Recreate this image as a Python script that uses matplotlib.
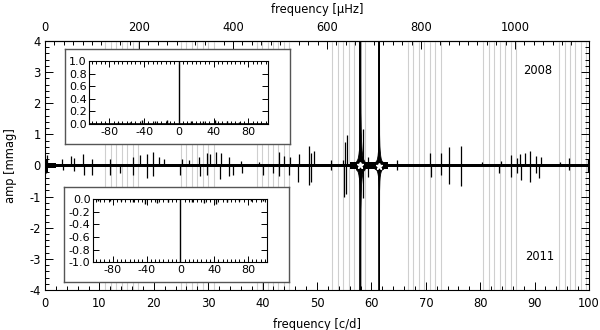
import numpy as np
import matplotlib
matplotlib.use('Agg')
import matplotlib.pyplot as plt
from matplotlib.ticker import MultipleLocator, FixedLocator

plt.rcParams['font.family'] = ['DejaVu Sans']
plt.rcParams['font.size'] = 7.6
plt.rcParams['axes.unicode_minus'] = False

CD_TO_UHZ = 11.574

# light grey marker lines (c/d)
alias_lines = [11.1, 12.1, 13.1, 14.1, 15.1, 16.1, 17.1,
               25.0, 26.0, 27.0, 28.0, 29.0, 30.0, 31.0,
               38.9, 39.9, 40.9, 41.9, 42.9, 43.9, 44.9,
               52.8, 53.8, 54.8, 55.8, 56.8, 57.8, 58.8,
               66.7, 67.7, 68.7, 69.7, 70.7, 71.7, 72.7,
               80.6, 81.6, 82.6, 83.6, 84.6, 85.6, 86.6,
               94.5, 95.5, 96.5, 97.5, 98.5, 99.5]

# 2008 spectrum peaks (c/d, mmag)
peaks08_f = [0.3, 3.1, 4.8, 5.4, 7.0, 8.6, 11.9, 16.2, 17.4, 18.7, 19.8, 20.9,
             21.8, 25.1, 26.5, 28.3, 29.7, 30.3, 31.4, 32.4, 33.9, 36.1, 39.4,
             43.0, 43.9, 45.1, 46.7, 48.5, 48.9, 49.4, 52.6, 54.7, 55.1, 55.5,
             58.5, 59.3, 64.7, 70.8, 72.8, 74.2, 76.5, 80.4, 83.8, 85.6, 86.7,
             87.3, 88.3, 89.1, 90.3, 91.1, 94.6, 96.3, 99.8]
peaks08_a = [0.34, 0.20, 0.32, 0.25, 0.36, 0.21, 0.20, 0.26, 0.34, 0.36, 0.44, 0.28,
             0.20, 0.20, 0.18, 0.28, 0.39, 0.36, 0.44, 0.39, 0.28, 0.16, 0.12,
             0.42, 0.30, 0.26, 0.36, 0.63, 0.39, 0.45, 0.18, 0.18, 0.77, 0.98,
             1.17, 0.28, 0.18, 0.39, 0.39, 0.61, 0.63, 0.12, 0.16, 0.34, 0.25,
             0.36, 0.39, 0.45, 0.31, 0.26, 0.12, 0.23, 0.20]

# 2011 spectrum peaks (drawn downwards)
peaks11_f = [0.2, 3.4, 5.4, 7.1, 8.6, 11.9, 13.8, 16.2, 18.7, 19.9, 24.8, 28.4,
             29.7, 32.2, 33.9, 34.6, 36.3, 40.1, 41.9, 43.0, 44.8, 46.5, 48.6,
             48.9, 52.6, 55.0, 55.4, 58.5, 59.4, 64.7, 71.0, 72.8, 74.3, 76.4,
             83.5, 85.6, 86.7, 87.5, 89.1, 90.3, 90.8, 96.3, 99.8]
peaks11_a = [0.25, 0.15, 0.18, 0.30, 0.31, 0.30, 0.25, 0.30, 0.40, 0.34, 0.30, 0.33,
             0.30, 0.42, 0.34, 0.30, 0.25, 0.30, 0.25, 0.34, 0.30, 0.52, 0.63,
             0.52, 0.15, 1.00, 0.90, 1.06, 0.36, 0.15, 0.36, 0.31, 0.58, 0.65,
             0.25, 0.36, 0.25, 0.47, 0.52, 0.25, 0.41, 0.15, 0.20]

# dominant modes (off scale) and their window wings
main_f = [57.95, 61.37]
wing_off = [0.0, 0.05, 0.1, 0.15, 0.25, 0.35, 0.5, 0.8]
wing08_a = [[4.5, 1.7, 1.1, 0.8, 0.5, 0.35, 0.22, 0.12],
            [4.5, 1.0, 0.65, 0.5, 0.32, 0.22, 0.15, 0.1]]
wing11_a = [[4.5, 1.4, 0.9, 0.6, 0.4, 0.28, 0.18, 0.12],
            [4.5, 0.8, 0.5, 0.36, 0.25, 0.18, 0.13, 0.1]]

# noise floor (step levels)
noise_f = [0, 0.6, 2, 50, 56, 63, 66, 100]
noise08 = [0.22, 0.09, 0.05, 0.06, 0.12, 0.06, 0.05, 0.05]
noise11 = [0.20, 0.09, 0.05, 0.06, 0.11, 0.06, 0.05, 0.05]

# spectral window (insets)
win_f = [-97.5, -83.6, -69.7, -55.8, -41.9, -27.9, -14.0, 0.0,
         14.0, 27.9, 41.9, 55.8, 69.7, 83.6, 97.5]
win08_a = [0.02, 0.02, 0.03, 0.03, 0.06, 0.05, 0.07, 1.0,
           0.05, 0.05, 0.06, 0.04, 0.03, 0.02, 0.02]
win11_a = [0.02, 0.02, 0.03, 0.04, 0.07, 0.06, 0.05, 1.0,
           0.05, 0.06, 0.07, 0.04, 0.03, 0.02, 0.02]


def style_ticks(ax, major, minor):
    ax.tick_params(which='both', direction='in', top=True, right=True, width=0.7)
    ax.tick_params(which='major', length=major)
    ax.tick_params(which='minor', length=minor)
    for s in ax.spines.values():
        s.set_linewidth(0.8)


def draw_wings(ax, center, amps, sign):
    x = [center - o for o in wing_off[::-1]] + [center + o for o in wing_off[1:]]
    y = amps[::-1] + amps[1:]
    ax.fill_between(x, 0, sign * np.array(y), color='black', lw=0.6, zorder=3)


def draw_inset(fig, frame_rect, ax_rect, amps, sign):
    frame = fig.add_axes(frame_rect, zorder=2)
    frame.set_xticks([])
    frame.set_yticks([])
    frame.set_facecolor('white')
    for s in frame.spines.values():
        s.set_color('#555555')
        s.set_linewidth(1.0)
    ax = fig.add_axes(ax_rect, zorder=3)
    ax.vlines(win_f, 0, sign * np.array(amps), color='black', lw=1.0)
    ax.axhline(0, color='black', lw=1.2)
    ax.set_xlim(-103, 103)
    if sign > 0:
        ax.set_ylim(0, 1.0)
    else:
        ax.set_ylim(-1.0, 0)
    ax.xaxis.set_major_locator(FixedLocator([-80, -40, 0, 40, 80]))
    ax.xaxis.set_minor_locator(MultipleLocator(5))
    ax.yaxis.set_major_locator(MultipleLocator(0.2))
    ax.yaxis.set_major_formatter(plt.FormatStrFormatter('%.1f'))
    style_ticks(ax, 4, 2)
    ax.tick_params(axis='both', pad=2, labelsize=8)
    return ax


fig = plt.figure(figsize=(6.0, 3.3), dpi=100)
ax = fig.add_axes([0.075, 0.1212, 0.9067, 0.7546], zorder=1)

ax.vlines(alias_lines, -4, 4, color='#cfcfcf', lw=0.8, zorder=1)

ax.fill_between(noise_f, noise08, 0, step='post', color='black', lw=0, zorder=2)
ax.fill_between(noise_f, [-v for v in noise11], 0, step='post', color='black', lw=0, zorder=2)

ax.vlines(peaks08_f, 0, peaks08_a, color='black', lw=0.9, zorder=3)
ax.vlines(peaks11_f, 0, [-a for a in peaks11_a], color='black', lw=0.9, zorder=3)

for i, f in enumerate(main_f):
    draw_wings(ax, f, wing08_a[i], 1)
    draw_wings(ax, f, wing11_a[i], -1)
ax.vlines(main_f, 0, 6, color='black', lw=1.4, zorder=4)
ax.vlines(main_f, -6, 0, color='black', lw=1.2, zorder=4)
ax.plot(main_f, [0.02, -0.03], ls='none', marker='*', ms=4.5, color='white',
        mec='white', zorder=5)

ax.set_xlim(0, 100)
ax.set_ylim(-4, 4)
ax.xaxis.set_major_locator(MultipleLocator(10))
ax.xaxis.set_minor_locator(MultipleLocator(2))
ax.yaxis.set_major_locator(MultipleLocator(1))
ax.yaxis.set_minor_locator(MultipleLocator(0.2))
style_ticks(ax, 6, 3)
ax.tick_params(axis='both', labelsize=8.3)
ax.tick_params(axis='x', pad=5)
ax.tick_params(axis='y', pad=3)
ax.tick_params(top=False, which='both')

top = ax.secondary_xaxis('top', functions=(lambda f: f * CD_TO_UHZ,
                                           lambda u: u / CD_TO_UHZ))
top.xaxis.set_major_locator(FixedLocator([0, 200, 400, 600, 800, 1000]))
top.xaxis.set_minor_locator(FixedLocator(list(range(20, 1160, 20))))
top.tick_params(which='both', direction='in', width=0.7, labelsize=8.3, pad=5)
top.tick_params(which='major', length=6)
top.tick_params(which='minor', length=3)
top.set_xlabel('frequency [\u03bcHz]', fontsize=8.3, labelpad=6)

ax.set_xlabel('frequency [c/d]', fontsize=8.3, labelpad=6)
ax.set_ylabel('amp [mmag]', fontsize=8.3, labelpad=9)

fig.text(538 / 600, 1 - 71 / 330, '2008', ha='center', va='center', fontsize=8.3)
fig.text(540 / 600, 1 - 257 / 330, '2011', ha='center', va='center', fontsize=8.3)

draw_inset(fig, [0.1083, 0.5636, 0.375, 0.2879],
           [0.1488, 0.6242, 0.2983, 0.1909], win08_a, 1)
draw_inset(fig, [0.1072, 0.1445, 0.375, 0.2879],
           [0.1555, 0.2052, 0.29, 0.1909], win11_a, -1)

fig.savefig('out.png', dpi=100)
